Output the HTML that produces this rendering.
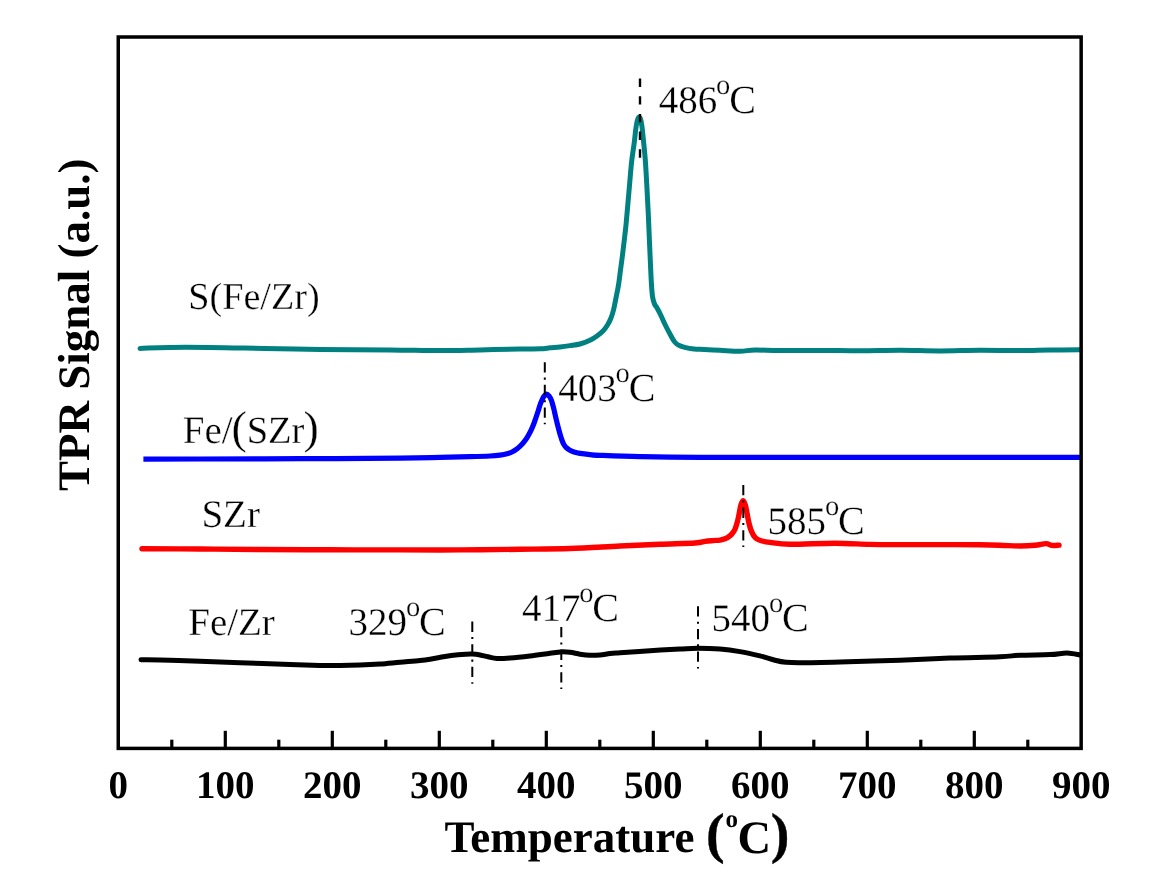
<!DOCTYPE html>
<html><head><meta charset="utf-8"><style>
html,body{margin:0;padding:0;background:#fff;}
svg{display:block;will-change:transform;}
text{font-family:"Liberation Serif",serif;text-rendering:geometricPrecision;}
.b{font-weight:bold;}
.r{font-weight:normal;stroke:#fff;stroke-width:0.3px;}
.p{font-weight:bold;stroke:#000;stroke-width:0.4px;}
</style></head><body>
<svg width="1160" height="887" viewBox="0 0 1160 887">
<rect x="0" y="0" width="1160" height="887" fill="#fff"/>
<path d="M140.00,348.40 C147.67,348.20 165.33,347.20 186.00,347.20 C206.67,347.20 241.67,348.02 264.00,348.40 C286.33,348.78 299.00,349.25 320.00,349.50 C341.00,349.75 370.00,349.72 390.00,349.90 C410.00,350.08 425.00,350.60 440.00,350.60 C455.00,350.60 466.67,350.15 480.00,349.90 C493.33,349.65 510.00,349.28 520.00,349.10 C530.00,348.92 535.00,349.02 540.00,348.80 C545.00,348.58 546.67,348.12 550.00,347.80 C553.33,347.48 556.67,347.27 560.00,346.90 C563.33,346.53 566.67,346.08 570.00,345.60 C573.33,345.12 576.67,344.88 580.00,344.00 C583.33,343.12 587.17,341.63 590.00,340.30 C592.83,338.97 594.83,337.55 597.00,336.00 C599.17,334.45 601.25,332.83 603.00,331.00 C604.75,329.17 606.17,327.17 607.50,325.00 C608.83,322.83 610.00,320.50 611.00,318.00 C612.00,315.50 612.67,313.33 613.50,310.00 C614.33,306.67 615.17,302.17 616.00,298.00 C616.83,293.83 617.75,289.67 618.50,285.00 C619.25,280.33 619.83,275.00 620.50,270.00 C621.17,265.00 621.87,260.00 622.50,255.00 C623.13,250.00 623.72,245.00 624.30,240.00 C624.88,235.00 625.42,230.83 626.00,225.00 C626.58,219.17 627.18,212.00 627.80,205.00 C628.42,198.00 629.07,190.17 629.70,183.00 C630.33,175.83 630.85,168.67 631.60,162.00 C632.35,155.33 633.50,148.50 634.20,143.00 C634.90,137.50 635.30,132.67 635.80,129.00 C636.30,125.33 636.72,122.95 637.20,121.00 C637.68,119.05 638.17,117.70 638.70,117.30 C639.23,116.90 639.87,117.15 640.40,118.60 C640.93,120.05 641.40,122.43 641.90,126.00 C642.40,129.57 642.83,134.33 643.40,140.00 C643.97,145.67 644.73,152.50 645.30,160.00 C645.87,167.50 646.32,176.33 646.80,185.00 C647.28,193.67 647.77,202.83 648.20,212.00 C648.63,221.17 649.02,231.17 649.40,240.00 C649.78,248.83 650.15,257.50 650.50,265.00 C650.85,272.50 651.15,279.67 651.50,285.00 C651.85,290.33 652.10,293.83 652.60,297.00 C653.10,300.17 653.75,302.17 654.50,304.00 C655.25,305.83 656.07,306.17 657.10,308.00 C658.13,309.83 659.33,312.17 660.70,315.00 C662.07,317.83 663.67,321.67 665.30,325.00 C666.93,328.33 668.93,332.17 670.50,335.00 C672.07,337.83 673.23,340.23 674.70,342.00 C676.17,343.77 677.43,344.67 679.30,345.60 C681.17,346.53 683.78,347.07 685.90,347.60 C688.02,348.13 689.65,348.52 692.00,348.80 C694.35,349.08 695.33,349.05 700.00,349.30 C704.67,349.55 713.33,349.98 720.00,350.30 C726.67,350.62 734.17,351.25 740.00,351.20 C745.83,351.15 748.33,350.10 755.00,350.00 C761.67,349.90 769.17,350.53 780.00,350.60 C790.83,350.67 806.67,350.37 820.00,350.40 C833.33,350.43 846.67,350.82 860.00,350.80 C873.33,350.78 886.67,350.28 900.00,350.30 C913.33,350.32 926.67,350.92 940.00,350.90 C953.33,350.88 966.67,350.25 980.00,350.20 C993.33,350.15 1008.33,350.63 1020.00,350.60 C1031.67,350.57 1040.00,350.13 1050.00,350.00 C1060.00,349.87 1075.00,349.83 1080.00,349.80" fill="none" stroke="#008080" stroke-width="5" stroke-linecap="round" stroke-linejoin="round"/>
<path d="M143.40,459.20 C152.83,459.17 173.90,459.08 200.00,459.00 C226.10,458.92 266.67,458.85 300.00,458.70 C333.33,458.55 376.67,458.32 400.00,458.10 C423.33,457.88 428.33,457.63 440.00,457.40 C451.67,457.17 461.67,456.93 470.00,456.70 C478.33,456.47 485.00,456.27 490.00,456.00 C495.00,455.73 497.17,455.47 500.00,455.10 C502.83,454.73 504.92,454.37 507.00,453.80 C509.08,453.23 510.75,452.58 512.50,451.70 C514.25,450.82 515.92,449.73 517.50,448.50 C519.08,447.27 520.62,445.78 522.00,444.30 C523.38,442.82 524.63,441.28 525.80,439.60 C526.97,437.92 528.02,436.00 529.00,434.20 C529.98,432.40 530.87,430.62 531.70,428.80 C532.53,426.98 533.28,425.18 534.00,423.30 C534.72,421.42 535.33,419.47 536.00,417.50 C536.67,415.53 537.33,413.58 538.00,411.50 C538.67,409.42 539.33,406.92 540.00,405.00 C540.67,403.08 541.35,401.43 542.00,400.00 C542.65,398.57 543.15,397.38 543.90,396.40 C544.65,395.42 545.62,394.13 546.50,394.10 C547.38,394.07 548.40,395.22 549.20,396.20 C550.00,397.18 550.70,398.53 551.30,400.00 C551.90,401.47 552.33,403.33 552.80,405.00 C553.27,406.67 553.70,408.33 554.10,410.00 C554.50,411.67 554.82,413.33 555.20,415.00 C555.58,416.67 556.00,418.33 556.40,420.00 C556.80,421.67 557.18,423.33 557.60,425.00 C558.02,426.67 558.45,428.33 558.90,430.00 C559.35,431.67 559.80,433.33 560.30,435.00 C560.80,436.67 561.35,438.50 561.90,440.00 C562.45,441.50 562.92,442.77 563.60,444.00 C564.28,445.23 565.02,446.40 566.00,447.40 C566.98,448.40 568.17,449.23 569.50,450.00 C570.83,450.77 572.25,451.43 574.00,452.00 C575.75,452.57 577.33,452.97 580.00,453.40 C582.67,453.83 586.67,454.28 590.00,454.60 C593.33,454.92 591.67,454.97 600.00,455.30 C608.33,455.63 623.33,456.27 640.00,456.60 C656.67,456.93 668.33,457.18 700.00,457.30 C731.67,457.42 788.33,457.30 830.00,457.30 C871.67,457.30 908.33,457.30 950.00,457.30 C991.67,457.30 1058.33,457.30 1080.00,457.30" fill="none" stroke="#0000ff" stroke-width="5.2" stroke-linecap="butt" stroke-linejoin="round"/>
<path d="M142.00,548.80 C151.67,548.83 180.33,548.88 200.00,549.00 C219.67,549.12 238.33,549.37 260.00,549.50 C281.67,549.63 306.67,549.73 330.00,549.80 C353.33,549.87 378.33,549.88 400.00,549.90 C421.67,549.92 440.00,550.00 460.00,549.90 C480.00,549.80 501.67,549.53 520.00,549.30 C538.33,549.07 553.33,549.05 570.00,548.50 C586.67,547.95 605.00,546.70 620.00,546.00 C635.00,545.30 647.50,544.80 660.00,544.30 C672.50,543.80 687.50,543.48 695.00,543.00 C702.50,542.52 702.00,541.80 705.00,541.40 C708.00,541.00 710.50,540.82 713.00,540.60 C715.50,540.38 717.90,540.43 720.00,540.10 C722.10,539.77 724.02,539.25 725.60,538.60 C727.18,537.95 728.37,537.10 729.50,536.20 C730.63,535.30 731.52,534.30 732.40,533.20 C733.28,532.10 734.10,531.05 734.80,529.60 C735.50,528.15 736.02,526.43 736.60,524.50 C737.18,522.57 737.83,520.00 738.30,518.00 C738.77,516.00 739.05,514.33 739.40,512.50 C739.75,510.67 740.03,508.58 740.40,507.00 C740.77,505.42 741.15,504.03 741.60,503.00 C742.05,501.97 742.60,500.80 743.10,500.80 C743.60,500.80 744.15,501.97 744.60,503.00 C745.05,504.03 745.42,505.42 745.80,507.00 C746.18,508.58 746.55,510.67 746.90,512.50 C747.25,514.33 747.52,516.08 747.90,518.00 C748.28,519.92 748.75,522.17 749.20,524.00 C749.65,525.83 750.08,527.50 750.60,529.00 C751.12,530.50 751.67,531.73 752.30,533.00 C752.93,534.27 753.62,535.60 754.40,536.60 C755.18,537.60 755.73,538.27 757.00,539.00 C758.27,539.73 759.83,540.43 762.00,541.00 C764.17,541.57 765.33,541.85 770.00,542.40 C774.67,542.95 779.17,544.17 790.00,544.30 C800.83,544.43 821.67,543.18 835.00,543.20 C848.33,543.22 859.17,544.17 870.00,544.40 C880.83,544.63 888.33,544.57 900.00,544.60 C911.67,544.63 926.67,544.57 940.00,544.60 C953.33,544.63 970.00,544.70 980.00,544.80 C990.00,544.90 993.33,545.00 1000.00,545.20 C1006.67,545.40 1014.17,545.98 1020.00,546.00 C1025.83,546.02 1030.67,545.70 1035.00,545.30 C1039.33,544.90 1043.17,543.58 1046.00,543.60 C1048.83,543.62 1049.83,545.15 1052.00,545.40 C1054.17,545.65 1057.83,545.15 1059.00,545.10" fill="none" stroke="#ff0000" stroke-width="5.4" stroke-linecap="round" stroke-linejoin="round"/>
<path d="M141.00,659.70 C145.83,659.78 160.17,659.93 170.00,660.20 C179.83,660.47 188.33,660.88 200.00,661.30 C211.67,661.72 225.00,662.18 240.00,662.70 C255.00,663.22 276.67,663.95 290.00,664.40 C303.33,664.85 311.67,665.20 320.00,665.40 C328.33,665.60 333.33,665.65 340.00,665.60 C346.67,665.55 353.33,665.37 360.00,665.10 C366.67,664.83 373.33,664.48 380.00,664.00 C386.67,663.52 393.33,662.78 400.00,662.20 C406.67,661.62 415.00,661.00 420.00,660.50 C425.00,660.00 425.83,659.87 430.00,659.20 C434.17,658.53 440.33,657.23 445.00,656.50 C449.67,655.77 454.50,655.18 458.00,654.80 C461.50,654.42 463.67,654.32 466.00,654.20 C468.33,654.08 469.83,654.02 472.00,654.10 C474.17,654.18 476.33,654.25 479.00,654.70 C481.67,655.15 485.00,656.17 488.00,656.80 C491.00,657.43 493.33,658.30 497.00,658.50 C500.67,658.70 504.50,658.43 510.00,658.00 C515.50,657.57 523.33,656.70 530.00,655.90 C536.67,655.10 544.83,653.87 550.00,653.20 C555.17,652.53 557.67,652.05 561.00,651.90 C564.33,651.75 566.83,651.92 570.00,652.30 C573.17,652.68 576.67,653.70 580.00,654.20 C583.33,654.70 586.67,655.17 590.00,655.30 C593.33,655.43 596.67,655.28 600.00,655.00 C603.33,654.72 606.67,653.97 610.00,653.60 C613.33,653.23 613.33,653.28 620.00,652.80 C626.67,652.32 640.00,651.33 650.00,650.70 C660.00,650.07 672.00,649.42 680.00,649.00 C688.00,648.58 691.33,648.20 698.00,648.20 C704.67,648.20 713.00,648.43 720.00,649.00 C727.00,649.57 733.33,650.45 740.00,651.60 C746.67,652.75 754.17,654.47 760.00,655.90 C765.83,657.33 770.67,659.13 775.00,660.20 C779.33,661.27 781.83,661.87 786.00,662.30 C790.17,662.73 791.00,662.85 800.00,662.80 C809.00,662.75 823.33,662.43 840.00,662.00 C856.67,661.57 881.67,660.85 900.00,660.20 C918.33,659.55 933.33,658.67 950.00,658.10 C966.67,657.53 988.33,657.28 1000.00,656.80 C1011.67,656.32 1011.67,655.57 1020.00,655.20 C1028.33,654.83 1042.17,654.97 1050.00,654.60 C1057.83,654.23 1062.00,652.93 1067.00,653.00 C1072.00,653.07 1077.83,654.67 1080.00,655.00" fill="none" stroke="#000000" stroke-width="5" stroke-linecap="round" stroke-linejoin="round"/>
<line x1="640" y1="78.5" x2="640" y2="158" stroke="#000" stroke-width="2.4" stroke-dasharray="8.4 9.3"/>
<line x1="544.8" y1="362.2" x2="544.8" y2="424.3" stroke="#000" stroke-width="2" stroke-dasharray="10.3 5.1 2.1 5.1"/>
<line x1="743.3" y1="485.0" x2="743.3" y2="547.1" stroke="#000" stroke-width="2" stroke-dasharray="10.3 5.1 2.1 5.1"/>
<line x1="472.3" y1="621.6" x2="472.3" y2="683.7" stroke="#000" stroke-width="2" stroke-dasharray="10.3 5.1 2.1 5.1"/>
<line x1="561.3" y1="627.0" x2="561.3" y2="689.1" stroke="#000" stroke-width="2" stroke-dasharray="10.3 5.1 2.1 5.1"/>
<line x1="698.0" y1="606.3" x2="698.0" y2="668.4" stroke="#000" stroke-width="2" stroke-dasharray="10.3 5.1 2.1 5.1"/>
<rect x="118.25" y="37" width="962.9" height="711.4" fill="none" stroke="#000" stroke-width="3.5" stroke-linejoin="miter"/>
<line x1="171.80" y1="739.7" x2="171.80" y2="748" stroke="#000" stroke-width="3.2"/>
<line x1="225.30" y1="730.8" x2="225.30" y2="748" stroke="#000" stroke-width="3.2"/>
<line x1="278.80" y1="739.7" x2="278.80" y2="748" stroke="#000" stroke-width="3.2"/>
<line x1="332.30" y1="730.8" x2="332.30" y2="748" stroke="#000" stroke-width="3.2"/>
<line x1="385.80" y1="739.7" x2="385.80" y2="748" stroke="#000" stroke-width="3.2"/>
<line x1="439.30" y1="730.8" x2="439.30" y2="748" stroke="#000" stroke-width="3.2"/>
<line x1="492.80" y1="739.7" x2="492.80" y2="748" stroke="#000" stroke-width="3.2"/>
<line x1="546.30" y1="730.8" x2="546.30" y2="748" stroke="#000" stroke-width="3.2"/>
<line x1="599.80" y1="739.7" x2="599.80" y2="748" stroke="#000" stroke-width="3.2"/>
<line x1="653.30" y1="730.8" x2="653.30" y2="748" stroke="#000" stroke-width="3.2"/>
<line x1="706.80" y1="739.7" x2="706.80" y2="748" stroke="#000" stroke-width="3.2"/>
<line x1="760.30" y1="730.8" x2="760.30" y2="748" stroke="#000" stroke-width="3.2"/>
<line x1="813.80" y1="739.7" x2="813.80" y2="748" stroke="#000" stroke-width="3.2"/>
<line x1="867.30" y1="730.8" x2="867.30" y2="748" stroke="#000" stroke-width="3.2"/>
<line x1="920.80" y1="739.7" x2="920.80" y2="748" stroke="#000" stroke-width="3.2"/>
<line x1="974.30" y1="730.8" x2="974.30" y2="748" stroke="#000" stroke-width="3.2"/>
<line x1="1027.80" y1="739.7" x2="1027.80" y2="748" stroke="#000" stroke-width="3.2"/>
<text x="118.30" y="798" class="b" font-size="39" text-anchor="middle">0</text>
<text x="225.30" y="798" class="b" font-size="39" text-anchor="middle">100</text>
<text x="332.30" y="798" class="b" font-size="39" text-anchor="middle">200</text>
<text x="439.30" y="798" class="b" font-size="39" text-anchor="middle">300</text>
<text x="546.30" y="798" class="b" font-size="39" text-anchor="middle">400</text>
<text x="653.30" y="798" class="b" font-size="39" text-anchor="middle">500</text>
<text x="760.30" y="798" class="b" font-size="39" text-anchor="middle">600</text>
<text x="867.30" y="798" class="b" font-size="39" text-anchor="middle">700</text>
<text x="974.30" y="798" class="b" font-size="39" text-anchor="middle">800</text>
<text x="1081.30" y="798" class="b" font-size="39" text-anchor="middle">900</text>
<text x="444.4" y="852" class="b" font-size="45">Temperature</text>
<text x="706" y="852" class="p" font-size="56">(</text>
<text x="725.5" y="826.5" class="b" font-size="25">o</text>
<text x="737.5" y="852.6" class="b" font-size="46.5">C</text>
<text x="770.8" y="852" class="p" font-size="56">)</text>
<text transform="translate(89,324.7) rotate(-90)" class="b" font-size="45" text-anchor="middle">TPR Signal (a.u.)</text>
<text x="188.2" y="308.6" class="r" font-size="38.2">S(Fe/Zr)</text>
<text x="182.8" y="442.6" class="r" font-size="39">Fe/</text>
<text x="231.6" y="442.6" class="r" font-size="46">(</text>
<text x="246.7" y="442.6" class="r" font-size="38.5">SZr</text>
<text x="303.6" y="442.6" class="r" font-size="46">)</text>
<text x="201.4" y="526.9" class="r" font-size="39">SZr</text>
<text x="188.2" y="634.7" class="r" font-size="39">Fe/Zr</text>
<text x="658.7" y="113.0" class="r" font-size="39">486<tspan font-size="28.5" dx="-1.1" dy="-19">o</tspan><tspan font-size="40" dx="-1.2" dy="19">C</tspan></text>
<text x="558.2" y="401.4" class="r" font-size="39">403<tspan font-size="28.5" dx="-1.1" dy="-19">o</tspan><tspan font-size="40" dx="-1.2" dy="19">C</tspan></text>
<text x="767.6" y="534.4" class="r" font-size="39">585<tspan font-size="28.5" dx="-1.1" dy="-19">o</tspan><tspan font-size="40" dx="-1.2" dy="19">C</tspan></text>
<text x="348.5" y="635.0" class="r" font-size="39">329<tspan font-size="28.5" dx="-1.1" dy="-19">o</tspan><tspan font-size="40" dx="-1.2" dy="19">C</tspan></text>
<text x="521.9" y="620.6" class="r" font-size="39">417<tspan font-size="28.5" dx="-1.1" dy="-19">o</tspan><tspan font-size="40" dx="-1.2" dy="19">C</tspan></text>
<text x="711.6" y="630.5" class="r" font-size="39">540<tspan font-size="28.5" dx="-1.1" dy="-19">o</tspan><tspan font-size="40" dx="-1.2" dy="19">C</tspan></text>
</svg>
</body></html>
